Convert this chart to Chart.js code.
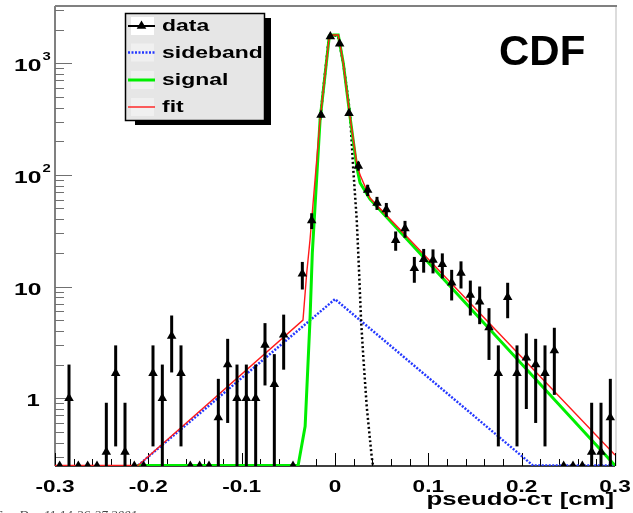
<!DOCTYPE html>
<html><head><meta charset="utf-8">
<script src="https://cdn.jsdelivr.net/npm/chart.js@4.4.1/dist/chart.umd.min.js"></script>
<style>html,body{margin:0;padding:0;background:#fff;overflow:hidden}canvas{display:block}</style>
</head><body>
<canvas id="c" width="633" height="513"></canvas>
<script>
// ---- data ----
const binCenters = [-0.295,-0.285,-0.275,-0.265,-0.255,-0.245,-0.235,-0.225,-0.215,-0.205,
  -0.195,-0.185,-0.175,-0.165,-0.155,-0.145,-0.135,-0.125,-0.115,-0.105,
  -0.095,-0.085,-0.075,-0.065,-0.055,-0.045,-0.035,-0.025,-0.015,-0.005,
  0.005,0.015,0.025,0.035,0.045,0.055,0.065,0.075,0.085,0.095,
  0.105,0.115,0.125,0.135,0.145,0.155,0.165,0.175,0.185,0.195,
  0.205,0.215,0.225,0.235,0.245,0.255,0.265,0.275,0.285,0.295];
const counts = [0,1,0,0,0,0.33,1.67,0.33,0,0,
  1.67,1,3.6,1.67,0,0,0,0.67,2,1,
  1,1,3,1.33,3.7,0,13,39,344,1730,
  1490,356,120,73,56,49,26,33,14.6,17.5,
  17.3,15.8,10.8,13.2,8.4,7.3,4.3,1.67,8,1.67,
  2.3,2,1.67,2.67,0,0,0,0.33,0.33,0.67];
const errors = [0,1,0,0,0,0.58,1.3,0.58,0,0,
  1.3,1,1.9,1.3,0,0,0,0.82,1.4,1,
  1,1,1.7,1.15,1.9,0,3.6,6.3,18.5,41.6,
  38.6,18.9,11,8.5,7.5,7,5.1,5.7,3.8,4.2,
  4.2,4,3.3,3.6,2.9,2.7,2.1,1.3,2.8,1.3,
  1.5,1.4,1.3,1.6,0,0,0,0.58,0.58,0.82];

const sidebandX = [-0.211, 0.0, 0.212, 0.3];
const sidebandY = [0.25, 7.7, 0.25, 0.25];

const signalX = [-0.212,-0.0395,-0.032,-0.0268,-0.0243,-0.016,-0.0061,-0.002,0.0035,0.0089,0.0161,0.0233,0.0268,0.0375,0.3];
const signalY = [0.25,0.25,0.56,5.0,20,310,1750,1790,1790,1000,330,118,85,60.5,0.25];

const fitX = [-0.3,-0.211,-0.0343,-0.0303,-0.0268,-0.016,-0.0061,-0.002,0.0035,0.0089,0.0161,0.0233,0.0268,0.0375,0.3];
const fitY = [0.25,0.25,5.0,13.2,26,310,1750,1790,1790,1000,330,128,100,62,0.31];

const promptX = [-0.016,-0.0064,-0.002,0.0032,0.0089,0.0161,0.0196,0.0233,0.0257,0.0279,0.0303,0.034,0.0393,0.0407];
const promptY = [310,1750,1790,1750,1000,358,111,39.5,14.1,5.0,2.36,0.84,0.30,0.25];

const xTickValues = [-0.3,-0.2,-0.1,0,0.1,0.2,0.3];
const xTickLabels = ['-0.3','-0.2','-0.1','0','0.1','0.2','0.3'];
const yTickValues = [1,10,100,1000];
const yTickLabels = ['1','10','10','10'];
const yTickSups = ['','','2','3'];
const legendNames = ['data','sideband','signal','fit'];
const xTitle = 'pseudo-c\u03C4 [cm]';
const stamp = 'Sun Dec 11 14:36:27 2001';

const X_MIN = -0.3, X_MAX = 0.3, Y_MIN = 0.247, Y_MAX = 3250;

function sText(ctx, text, x, y, font, align, sx) {
  ctx.save();
  ctx.font = font;
  ctx.textBaseline = 'alphabetic';
  const w = ctx.measureText(text).width * sx;
  const x0 = align === 'right' ? x - w : (align === 'center' ? x - w / 2 : x);
  ctx.translate(x0, y);
  ctx.scale(sx, 1);
  ctx.textAlign = 'left';
  ctx.fillText(text, 0, 0);
  ctx.restore();
  return w;
}

const rootPlugin = {
  id: 'rootStyle',
  beforeDraw(chart) {
    const ctx = chart.ctx;
    ctx.save(); ctx.fillStyle = '#fff'; ctx.fillRect(0, 0, chart.width, chart.height); ctx.restore();
  },
  beforeDatasetsDraw(chart) {
    const ctx = chart.ctx, a = chart.chartArea;
    const xs = chart.scales.x, ys = chart.scales.y;
    ctx.save();
    ctx.strokeStyle = '#dcdcdc'; ctx.lineWidth = 2;
    ctx.beginPath(); ctx.moveTo(a.right + 1, a.top); ctx.lineTo(a.right + 1, a.bottom); ctx.stroke();
    ctx.strokeStyle = '#808080'; ctx.lineWidth = 2;
    ctx.beginPath(); ctx.moveTo(a.left, a.top); ctx.lineTo(a.right + 2, a.top); ctx.stroke();
    ctx.beginPath(); ctx.moveTo(a.left, a.top); ctx.lineTo(a.left, a.bottom); ctx.stroke();
    ctx.strokeStyle = '#707070'; ctx.lineWidth = 1;
    for (let d = -1; d <= 3; d++) {
      for (let k = 1; k <= 9; k++) {
        const v = k * Math.pow(10, d);
        if (v < Y_MIN || v > Y_MAX) continue;
        const py = Math.round(ys.getPixelForValue(v)) + 0.5;
        const len = k === 1 ? 17 : 9;
        ctx.beginPath(); ctx.moveTo(a.left, py); ctx.lineTo(a.left + len, py); ctx.stroke();
      }
    }
    ctx.strokeStyle = '#000'; ctx.lineWidth = 1.5;
    ctx.beginPath(); ctx.moveTo(a.left, a.bottom); ctx.lineTo(a.right, a.bottom); ctx.stroke();
    ctx.lineWidth = 1;
    for (let i = -15; i <= 15; i++) {
      const px = Math.round(xs.getPixelForValue(i * 0.02)) + 0.5;
      const len = (i % 5 === 0) ? 13 : 7;
      ctx.beginPath(); ctx.moveTo(px, a.bottom); ctx.lineTo(px, a.bottom - len); ctx.stroke();
    }
    ctx.restore();
  },
  afterDatasetsDraw(chart) {
    const ctx = chart.ctx, a = chart.chartArea;
    const xs = chart.scales.x, ys = chart.scales.y;
    ctx.save();
    ctx.beginPath(); ctx.rect(a.left, a.top, a.right - a.left, a.bottom - a.top); ctx.clip();
    ctx.strokeStyle = '#000'; ctx.lineWidth = 3;
    binCenters.forEach((x, i) => {
      const e = errors[i];
      if (!(e > 0)) return;
      const hi = counts[i] + e, lo = counts[i] - e;
      const px = xs.getPixelForValue(x);
      const pyHi = ys.getPixelForValue(hi);
      const pyLo = lo > 0 ? ys.getPixelForValue(lo) : a.bottom + 5;
      ctx.beginPath(); ctx.moveTo(px, pyHi); ctx.lineTo(px, Math.min(pyLo, a.bottom + 5)); ctx.stroke();
    });
    ctx.restore();
  },
  afterDraw(chart) {
    const ctx = chart.ctx;
    const xs = chart.scales.x, ys = chart.scales.y;
    const ds = chart.data.datasets;
    ctx.save();
    ctx.fillStyle = '#000';
    xTickValues.forEach((v, i) => {
      sText(ctx, xTickLabels[i], xs.getPixelForValue(v), 492, 'bold 17px "Liberation Sans"', 'center', 1.33);
    });
    yTickValues.forEach((v, i) => {
      const py = ys.getPixelForValue(v);
      if (yTickLabels[i] === '1') {
        sText(ctx, yTickLabels[i], 33, py + 8, 'bold 17px "Liberation Sans"', 'center', 1.4);
      } else {
        const w = sText(ctx, yTickLabels[i], 14, py + 8, 'bold 17px "Liberation Sans"', 'left', 1.45);
        if (yTickSups[i]) sText(ctx, yTickSups[i], 14 + w + 1, py - 3, 'bold 11px "Liberation Sans"', 'left', 1.35);
      }
    });
    sText(ctx, xTitle, 614, 505, 'bold 18px "Liberation Sans"', 'right', 1.43);
    sText(ctx, 'CDF', 499, 65, 'bold 42px "Liberation Sans"', 'left', 1.0);
    ctx.fillStyle = '#000'; ctx.fillRect(135, 18, 136, 107);
    ctx.fillStyle = '#e6e6e6'; ctx.fillRect(125, 13, 140, 108);
    ctx.strokeStyle = '#000'; ctx.lineWidth = 1.5; ctx.strokeRect(125.5, 13.5, 139, 107);
    const symY = [26, 52.5, 80, 107];
    const txtY = [31, 58, 85, 112];
    const map = { data: 0, fit: 1, signal: 2, sideband: 4 };
    legendNames.forEach((name, r) => {
      const d = ds[map[name]];
      ctx.fillStyle = r === 0 ? '#ffffff' : '#f0f0f0';
      ctx.fillRect(131, symY[r] - 9, 23, 18);
      ctx.save();
      ctx.strokeStyle = d.borderColor; ctx.lineWidth = d.borderWidth || 2;
      if (d.borderDash) ctx.setLineDash(d.borderDash);
      ctx.beginPath(); ctx.moveTo(128, symY[r]); ctx.lineTo(155, symY[r]); ctx.stroke();
      ctx.restore();
      if (name === 'data') {
        ctx.fillStyle = '#000';
        ctx.beginPath();
        ctx.moveTo(141.5, symY[r] - 5.5); ctx.lineTo(146.3, symY[r] + 2.8); ctx.lineTo(136.7, symY[r] + 2.8);
        ctx.closePath(); ctx.fill();
      }
      ctx.fillStyle = '#000';
      sText(ctx, name, 162, txtY[r], 'bold 17px "Liberation Sans"', 'left', 1.35);
    });
    ctx.fillStyle = '#444';
    sText(ctx, stamp, -4, 519, 'italic 12px "Liberation Serif"', 'left', 1.1);
    ctx.restore();
  }
};

const mk = (xsArr, ysArr) => xsArr.map((x, i) => ({ x: x, y: ysArr[i] }));

new Chart(document.getElementById('c').getContext('2d'), {
  type: 'line',
  data: {
    datasets: [
      { label: 'data', data: binCenters.map((x, i) => ({ x: x, y: counts[i] > 0 ? counts[i] : Y_MIN })),
        showLine: false, pointStyle: 'triangle', pointRadius: 5.5, pointBackgroundColor: '#000',
        pointBorderColor: '#000', pointBorderWidth: 0, borderColor: '#000', backgroundColor: '#000', borderWidth: 2, clip: 0 },
      { label: 'fit', data: mk(fitX, fitY), borderColor: '#ff1a1a', borderWidth: 1.4, pointRadius: 0, tension: 0 },
      { label: 'signal', data: mk(signalX, signalY), borderColor: '#00ee00', borderWidth: 3, pointRadius: 0, tension: 0 },
      { label: 'prompt', data: mk(promptX, promptY), borderColor: '#000000', borderWidth: 2.5, borderDash: [2, 2.5], pointRadius: 0, tension: 0 },
      { label: 'sideband', data: mk(sidebandX, sidebandY), borderColor: '#2438ff', borderWidth: 2.5, borderDash: [2, 1.5], pointRadius: 0, tension: 0 }
    ]
  },
  options: {
    responsive: false, animation: false, devicePixelRatio: 1, events: [],
    layout: { padding: { left: 55, top: 6, right: 18, bottom: 47 } },
    scales: {
      x: { type: 'linear', min: X_MIN, max: X_MAX, display: false },
      y: { type: 'logarithmic', min: Y_MIN, max: Y_MAX, display: false }
    },
    plugins: { legend: { display: false }, tooltip: { enabled: false } }
  },
  plugins: [rootPlugin]
});
</script>
</body></html>
